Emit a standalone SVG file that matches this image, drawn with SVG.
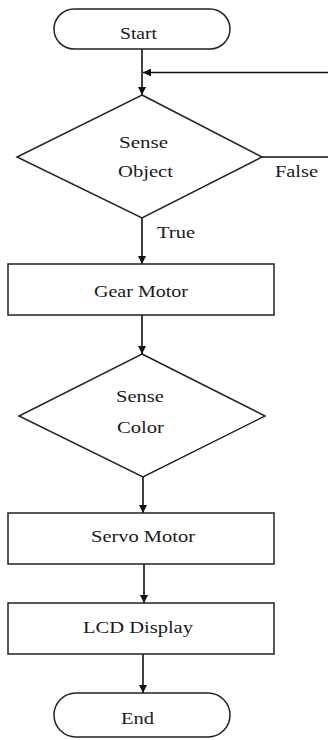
<svg xmlns="http://www.w3.org/2000/svg" width="328" height="740" viewBox="0 0 328 740">
<style>
.s{fill:#fff;stroke:#222;stroke-width:1.5}
.c{fill:none;stroke:#111;stroke-width:1.6}
.t{font-family:"Times New Roman","Liberation Serif",serif;font-size:16px;fill:#1a1a1a}
</style>
<defs>
<marker id="ah" viewBox="0 0 10 10" refX="10" refY="5" markerWidth="9" markerHeight="8" markerUnits="userSpaceOnUse" orient="auto">
<path d="M0,0 L10,5 L0,10 Z" fill="#111"/>
</marker>
</defs>
<rect width="328" height="740" fill="#fff"/>
<g id="connectors">
<line class="c" x1="142" y1="49" x2="142" y2="95" marker-end="url(#ah)"/>
<polyline class="c" points="262,157 330,157 330,72.5 143,72.5" marker-end="url(#ah)"/>
<line class="c" x1="142" y1="218" x2="142" y2="264" marker-end="url(#ah)"/>
<line class="c" x1="142" y1="315" x2="142" y2="354" marker-end="url(#ah)"/>
<line class="c" x1="143" y1="477" x2="143" y2="513" marker-end="url(#ah)"/>
<line class="c" x1="144" y1="564" x2="144" y2="603" marker-end="url(#ah)"/>
<line class="c" x1="143" y1="654" x2="143" y2="693" marker-end="url(#ah)"/>
<text class="t" x="275" y="177" textLength="43" lengthAdjust="spacingAndGlyphs">False</text>
<text class="t" x="157" y="238" textLength="38" lengthAdjust="spacingAndGlyphs">True</text>
</g>
<g id="start">
<rect class="s" x="54" y="9" width="176" height="40" rx="20"/>
<text class="t" x="120" y="39" textLength="37" lengthAdjust="spacingAndGlyphs">Start</text>
</g>
<g id="sense-object">
<polygon class="s" points="142,95 262,157 142,218 17,157"/>
<text class="t" x="119" y="148" textLength="49" lengthAdjust="spacingAndGlyphs">Sense</text>
<text class="t" x="118" y="176.5" textLength="55" lengthAdjust="spacingAndGlyphs">Object</text>
</g>
<g id="gear-motor">
<rect class="s" x="8" y="264" width="266" height="51"/>
<text class="t" x="94" y="296.5" textLength="94" lengthAdjust="spacingAndGlyphs">Gear Motor</text>
</g>
<g id="sense-color">
<polygon class="s" points="142,354 265,416 143,477 19,416"/>
<text class="t" x="116" y="401.5" textLength="48" lengthAdjust="spacingAndGlyphs">Sense</text>
<text class="t" x="117" y="432.5" textLength="47" lengthAdjust="spacingAndGlyphs">Color</text>
</g>
<g id="servo-motor">
<rect class="s" x="8" y="513" width="266" height="51"/>
<text class="t" x="91" y="541.5" textLength="104" lengthAdjust="spacingAndGlyphs">Servo Motor</text>
</g>
<g id="lcd-display">
<rect class="s" x="8" y="603" width="266" height="51"/>
<text class="t" x="83" y="633" textLength="110" lengthAdjust="spacingAndGlyphs">LCD Display</text>
</g>
<g id="end">
<rect class="s" x="54" y="693" width="176" height="44" rx="22"/>
<text class="t" x="121" y="724" textLength="33" lengthAdjust="spacingAndGlyphs">End</text>
</g>
</svg>
